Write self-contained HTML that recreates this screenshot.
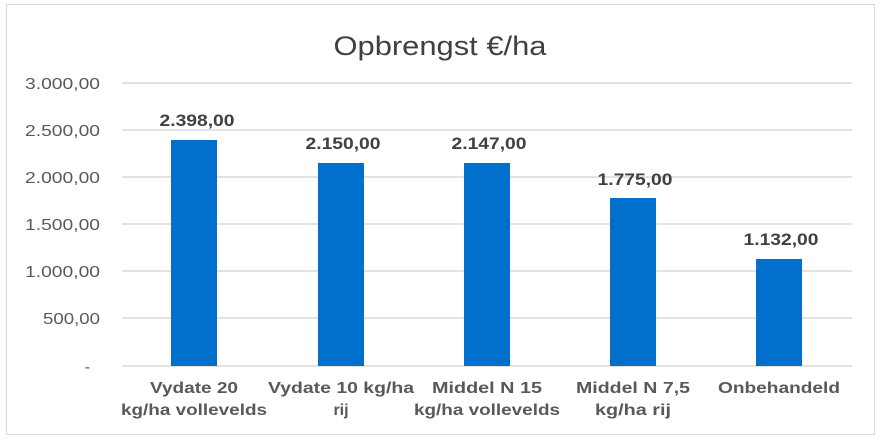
<!DOCTYPE html>
<html><head><meta charset="utf-8"><style>
html,body{margin:0;padding:0;background:#fff;}
svg{display:block;font-family:"Liberation Sans",sans-serif;}
</style></head><body>
<svg width="881" height="442" viewBox="0 0 881 442">
<rect x="6.5" y="4.5" width="868" height="430" fill="#fff" stroke="#d9d9d9" stroke-width="1"/>
<text x="440" y="55" text-anchor="middle" font-size="27" fill="#404040" textLength="213" lengthAdjust="spacingAndGlyphs">Opbrengst €/ha</text>
<g stroke="#d9d9d9" stroke-width="1.5">
<line x1="122" y1="83" x2="852" y2="83"/>
<line x1="122" y1="130" x2="852" y2="130"/>
<line x1="122" y1="177" x2="852" y2="177"/>
<line x1="122" y1="224" x2="852" y2="224"/>
<line x1="122" y1="271" x2="852" y2="271"/>
<line x1="122" y1="318" x2="852" y2="318"/>
<line x1="122" y1="366" x2="852" y2="366"/>
</g>
<g font-size="16" fill="#595959" text-anchor="end">
<text x="100" y="89" textLength="75" lengthAdjust="spacingAndGlyphs">3.000,00</text>
<text x="100" y="136" textLength="75" lengthAdjust="spacingAndGlyphs">2.500,00</text>
<text x="100" y="183" textLength="75" lengthAdjust="spacingAndGlyphs">2.000,00</text>
<text x="100" y="230" textLength="75" lengthAdjust="spacingAndGlyphs">1.500,00</text>
<text x="100" y="277" textLength="75" lengthAdjust="spacingAndGlyphs">1.000,00</text>
<text x="100" y="324" textLength="57" lengthAdjust="spacingAndGlyphs">500,00</text>
<text x="90" y="372">-</text>
</g>
<g fill="#0070cc">
<rect x="171" y="140" width="46" height="226"/>
<rect x="318" y="163" width="46" height="203"/>
<rect x="464" y="163" width="46" height="203"/>
<rect x="610" y="198" width="46" height="168"/>
<rect x="756" y="259" width="46" height="107"/>
</g>
<g font-size="17" font-weight="bold" fill="#404040" text-anchor="middle">
<text x="197" y="126" textLength="75" lengthAdjust="spacingAndGlyphs">2.398,00</text>
<text x="343" y="149" textLength="75" lengthAdjust="spacingAndGlyphs">2.150,00</text>
<text x="489" y="149" textLength="75" lengthAdjust="spacingAndGlyphs">2.147,00</text>
<text x="635" y="185" textLength="75" lengthAdjust="spacingAndGlyphs">1.775,00</text>
<text x="781" y="245" textLength="75" lengthAdjust="spacingAndGlyphs">1.132,00</text>
</g>
<g font-size="16" font-weight="bold" fill="#595959" text-anchor="middle">
<text x="194" y="393" textLength="88" lengthAdjust="spacingAndGlyphs">Vydate 20</text><text x="194" y="415" textLength="146" lengthAdjust="spacingAndGlyphs">kg/ha vollevelds</text>
<text x="341" y="393" textLength="146" lengthAdjust="spacingAndGlyphs">Vydate 10 kg/ha</text><text x="341" y="415">rij</text>
<text x="487" y="393" textLength="110" lengthAdjust="spacingAndGlyphs">Middel N 15</text><text x="487" y="415" textLength="146" lengthAdjust="spacingAndGlyphs">kg/ha vollevelds</text>
<text x="633" y="393" textLength="114" lengthAdjust="spacingAndGlyphs">Middel N 7,5</text><text x="633" y="415" textLength="76" lengthAdjust="spacingAndGlyphs">kg/ha rij</text>
<text x="779" y="393" textLength="122" lengthAdjust="spacingAndGlyphs">Onbehandeld</text>
</g>
</svg>
</body></html>
